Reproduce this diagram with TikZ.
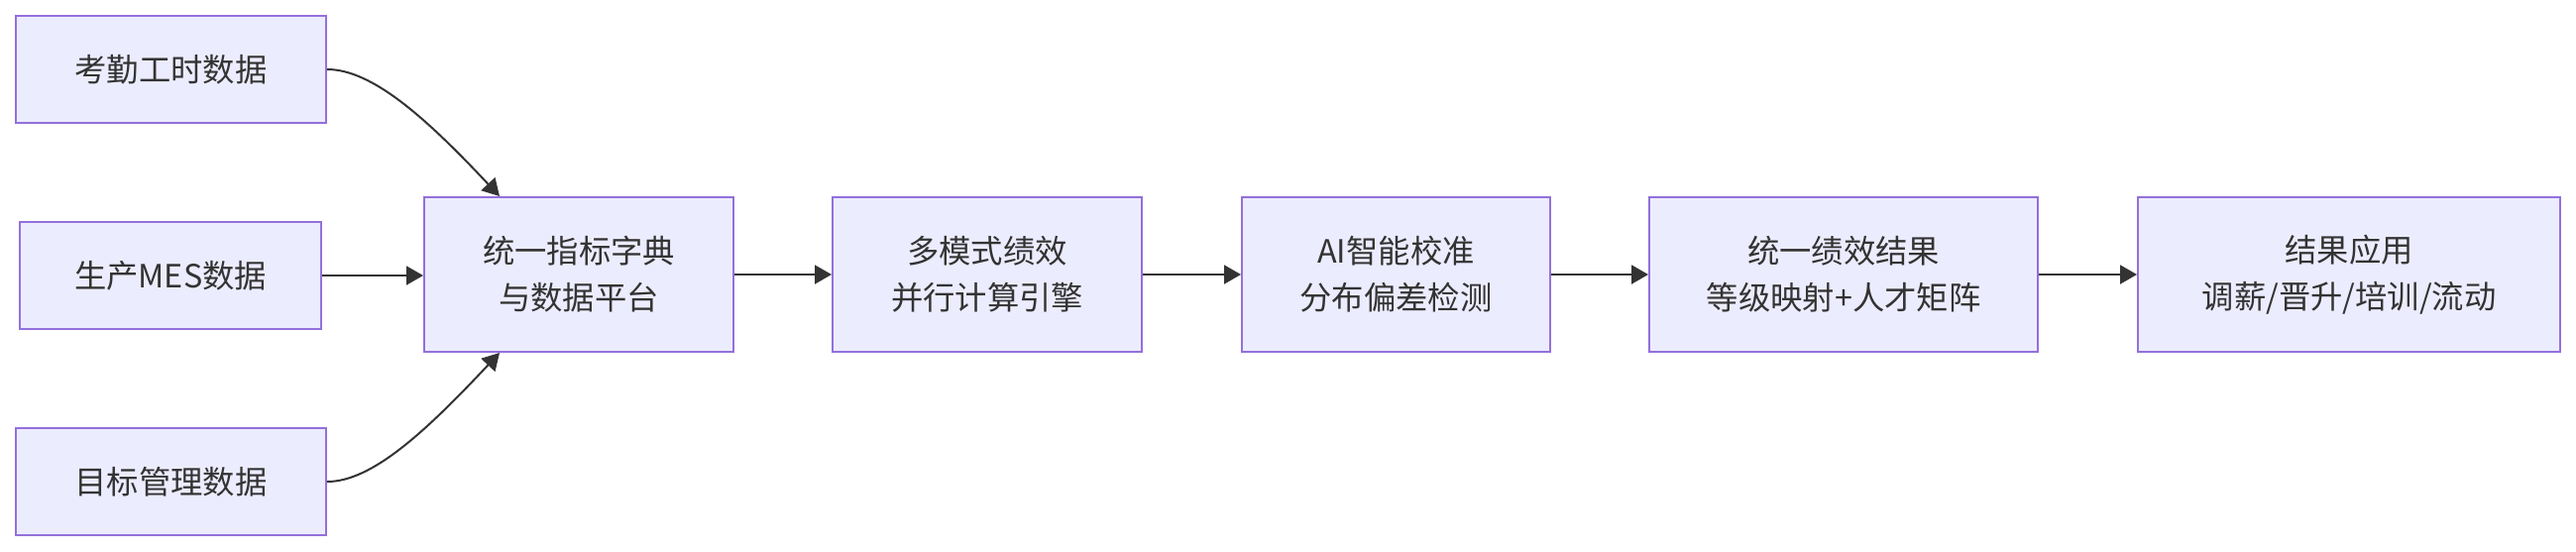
\documentclass[tikz,border=0pt]{standalone}
\usepackage{fontspec}
\usepackage{xcolor}
\usepackage{tikz}
\usetikzlibrary{arrows.meta, calc, positioning}

\newfontfamily\cjkfont{Noto Sans CJK SC}
\definecolor{boxFill}{HTML}{ECECFF}
\definecolor{boxLine}{HTML}{9370DB}
\definecolor{inkGray}{HTML}{333333}

\begin{document}
\begin{tikzpicture}[>={Triangle[length=0.17cm, width=0.19cm]},
    flowbox/.style={draw=boxLine, fill=boxFill, line width=0.02cm,
        text=inkGray, align=center, inner sep=0pt,
        font=\cjkfont\fontsize{9.2pt}{13.4pt}\selectfont},
    flowline/.style={draw=inkGray, line width=0.02cm, ->}]

    % =================================================================
    % 1. 画布范围
    % =================================================================
    \useasboundingbox (0,0) rectangle (25.99,5.56);

    % =================================================================
    % 2. 左侧三个数据源
    % =================================================================
    \node[flowbox, minimum width=3.13cm, minimum height=1.08cm] (Attend) at (1.725,4.86) {考勤工时数据};
    \node[flowbox, minimum width=3.04cm, minimum height=1.08cm] (Mes) at (1.72,2.78) {生产MES数据};
    \node[flowbox, minimum width=3.13cm, minimum height=1.08cm] (Target) at (1.725,0.70) {目标管理数据};

    % =================================================================
    % 3. 主流程各环节
    % =================================================================
    \node[flowbox, minimum width=3.12cm, minimum height=1.56cm] (Dict) at (5.84,2.79) {统一指标字典\\与数据平台};
    \node[flowbox, minimum width=3.12cm, minimum height=1.56cm] (Engine) at (9.96,2.79) {多模式绩效\\并行计算引擎};
    \node[flowbox, minimum width=3.11cm, minimum height=1.56cm] (Calib) at (14.085,2.79) {AI智能校准\\分布偏差检测};
    \node[flowbox, minimum width=3.92cm, minimum height=1.56cm] (Result) at (18.60,2.79) {统一绩效结果\\等级映射+人才矩阵};
    \node[flowbox, minimum width=4.26cm, minimum height=1.56cm] (Apply) at (23.70,2.79) {结果应用\\调薪/晋升/培训/流动};

    % 汇入点（统一指标字典的上下边）
    \coordinate (DictTop) at ($(Dict.north west)+(0.77,0)$);
    \coordinate (DictBottom) at ($(Dict.south west)+(0.77,0)$);

    % =================================================================
    % 4. 连线
    % =================================================================
    \draw[flowline] (Attend.east) .. controls +(0.45,0) and +(-0.75,0.8) .. (DictTop);
    \draw[flowline] (Mes.east) -- (Mes.east -| Dict.west);
    \draw[flowline] (Target.east) .. controls +(0.45,0) and +(-0.75,-0.8) .. (DictBottom);

    \draw[flowline] (Dict) -- (Engine);
    \draw[flowline] (Engine) -- (Calib);
    \draw[flowline] (Calib) -- (Result);
    \draw[flowline] (Result) -- (Apply);

\end{tikzpicture}
\end{document}
